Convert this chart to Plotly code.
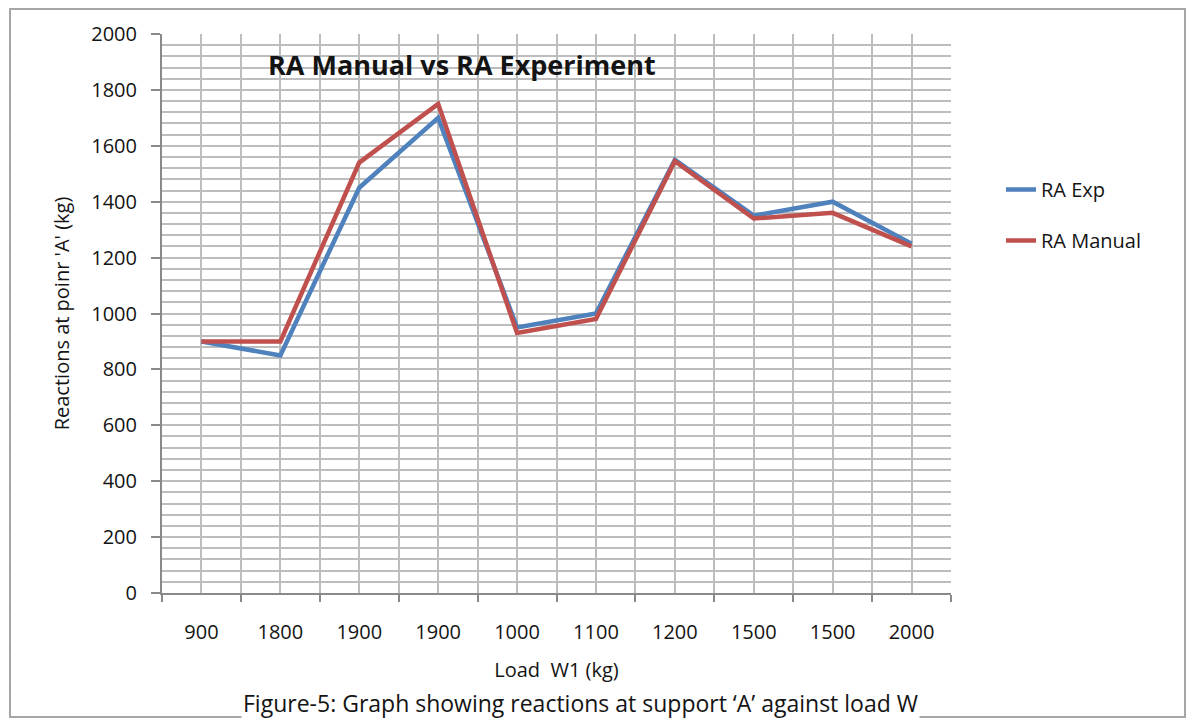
import plotly.graph_objects as go

categories = ["900", "1800", "1900", "1900", "1000", "1100", "1200", "1500", "1500", "2000"]
ra_exp = [900, 850, 1450, 1700, 950, 1000, 1550, 1350, 1400, 1250]
ra_manual = [900, 900, 1540, 1750, 930, 980, 1545, 1340, 1360, 1240]

# page body has an 8px margin; work in screen pixels and convert
OFF = 8
W, H = 1196 - OFF, 721 - OFF
SL, SR, ST, SB = 162, 951, 34, 593  # plot area in screen pixels
L, R, T, B = SL - OFF, SR - OFF, ST - OFF, SB - OFF
pw, ph = R - L, B - T


def px(x):  # screen x -> paper
    return (x - OFF - L) / pw


def py(y):  # screen y -> paper
    return (B - (y - OFF)) / ph


FONT = "Open Sans"
TXT = "#141414"
pos = list(range(len(categories)))

fig = go.Figure()
fig.add_trace(go.Scatter(x=pos, y=ra_exp, mode="lines", name="RA Exp",
                         line=dict(color="#4f81bd", width=4.5), legendgroup="a"))
fig.add_trace(go.Scatter(x=pos, y=ra_manual, mode="lines", name="RA Manual",
                         line=dict(color="#c0504d", width=4.5), legendgroup="b"))

grid = "#bdbdbd"
axc = "#8a8a8a"
fig.update_xaxes(range=[-0.5, len(categories) - 0.5], tickvals=pos, ticktext=categories,
                 showgrid=True, gridcolor=grid, gridwidth=1.6, ticks="",
                 showline=True, linecolor=axc, linewidth=2, zeroline=False,
                 tickfont=dict(family=FONT, size=20, color=TXT), ticklabelstandoff=20,
                 title=dict(text="Load  W1 (kg)", font=dict(family=FONT, size=20, color=TXT), standoff=19),
                 minor=dict(tickvals=[i - 0.5 for i in range(len(categories) + 1)], showgrid=True,
                            gridcolor=grid, gridwidth=1.6, ticks="outside", ticklen=7,
                            tickcolor=axc, tickwidth=2))
fig.update_yaxes(range=[0, 2000], dtick=200, showgrid=True, gridcolor=grid, gridwidth=1.6,
                 ticks="outside", ticklen=9, tickcolor=axc, tickwidth=2,
                 showline=True, linecolor=axc, linewidth=2, zeroline=False,
                 tickfont=dict(family=FONT, size=20, color=TXT), ticklabelstandoff=10,
                 title=dict(text="Reactions at poinr 'A' (kg)", font=dict(family=FONT, size=20, color=TXT), standoff=16),
                 minor=dict(dtick=40, showgrid=True, gridcolor=grid, gridwidth=1.6))

shapes = [
    dict(type="rect", xref="paper", yref="paper", x0=px(10), x1=px(1185), y0=py(717), y1=py(9),
         line=dict(color="#a6a6a6", width=2), fillcolor="rgba(0,0,0,0)", layer="below"),
]
# faint spreadsheet cell lines outside the chart frame
for yy in range(48, 720, 40):
    shapes.append(dict(type="line", xref="paper", yref="paper", x0=px(8), x1=px(9),
                       y0=py(yy), y1=py(yy), line=dict(color="#dbe3ee", width=1)))

fig.update_layout(
    width=W, height=H,
    margin=dict(l=L, r=W - R, t=T, b=H - B, autoexpand=False),
    paper_bgcolor="white", plot_bgcolor="white",
    shapes=shapes,
    showlegend=True,
    legend=dict(x=px(1001), y=py(170), xanchor="left", yanchor="top",
                font=dict(family=FONT, size=20, color=TXT), tracegroupgap=22,
                bgcolor="rgba(0,0,0,0)"),
    annotations=[
        dict(text="<b>RA Manual vs RA Experiment</b>", xref="paper", yref="paper",
             x=px(462), y=py(64), xanchor="center", yanchor="middle", showarrow=False,
             font=dict(family=FONT, size=27, color=TXT)),
        dict(text="Figure-5: Graph showing reactions at support \u2018A\u2019 against load W",
             xref="paper", yref="paper", x=px(580), y=py(721), xanchor="center", yanchor="bottom",
             showarrow=False, bgcolor="white", font=dict(family=FONT, size=23, color=TXT)),
    ],
)

fig.write_html("out.html")
